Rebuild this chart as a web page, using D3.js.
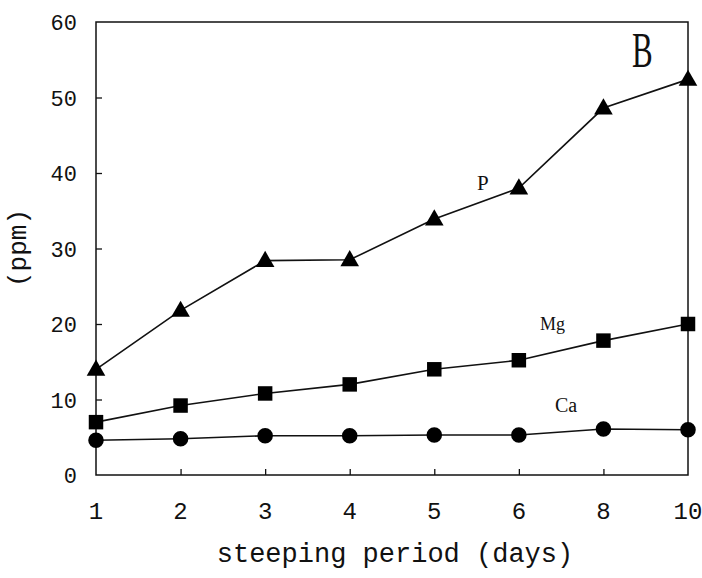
<!DOCTYPE html>
<html>
<head>
<meta charset="utf-8">
<script src="https://cdn.jsdelivr.net/npm/d3@7"></script>
<style>
  html, body { margin: 0; padding: 0; background: #fff; }
  svg { display: block; }
</style>
</head>
<body>
<svg id="chart" width="702" height="578"></svg>
<script>
// Steeping period (days) on an evenly spaced categorical axis
const days = ["1", "2", "3", "4", "5", "6", "8", "10"];
const yTicks = [0, 10, 20, 30, 40, 50, 60];

// Mineral concentrations (ppm)
const pValues  = [14.0, 21.8, 28.4, 28.5, 33.9, 38.0, 48.6, 52.4];
const mgValues = [7.0, 9.2, 10.8, 12.0, 14.0, 15.2, 17.8, 20.0];
const caValues = [4.6, 4.8, 5.2, 5.2, 5.3, 5.3, 6.1, 6.0];

const svg = d3.select("#chart");
const plotLeft = 96, plotRight = 688, plotTop = 22, plotBottom = 475;

const x = d3.scalePoint().domain(days).range([plotLeft, plotRight]);
const y = d3.scaleLinear().domain([0, 60]).range([plotBottom, plotTop]);

const mono = "'Liberation Mono', 'DejaVu Sans Mono', monospace";
const serif = "'Liberation Serif', 'DejaVu Serif', serif";

// Frame
svg.append("rect")
  .attr("x", plotLeft).attr("y", plotTop)
  .attr("width", plotRight - plotLeft).attr("height", plotBottom - plotTop)
  .attr("fill", "none").attr("stroke", "#111").attr("stroke-width", 1.5);

// Y axis: inward ticks, labels at left
const yAxis = d3.axisRight(y).tickValues(yTicks.filter(d => d > 0 && d < 60)).tickSize(6).tickFormat("");
const gy = svg.append("g").attr("transform", `translate(${plotLeft},0)`).call(yAxis);
gy.select(".domain").remove();
gy.selectAll("line").attr("stroke", "#111").attr("stroke-width", 1.3);

svg.append("g").selectAll("text").data(yTicks).join("text")
  .attr("x", 77).attr("y", d => y(d) + 8)
  .attr("text-anchor", "end")
  .attr("font-family", mono).attr("font-size", 22).attr("fill", "#111")
  .text(d => d);

// X axis: inward ticks at interior categories
const xAxis = d3.axisTop(x).tickValues(days.slice(1, -1)).tickSize(6).tickFormat("");
const gx = svg.append("g").attr("transform", `translate(0,${plotBottom})`).call(xAxis);
gx.select(".domain").remove();
gx.selectAll("line").attr("stroke", "#111").attr("stroke-width", 1.3);

svg.append("g").selectAll("text").data(days).join("text")
  .attr("x", d => x(d)).attr("y", 519)
  .attr("text-anchor", "middle")
  .attr("font-family", mono).attr("font-size", 24).attr("fill", "#111")
  .text(d => d);

// Axis titles
svg.append("text")
  .attr("x", 395).attr("y", 562)
  .attr("text-anchor", "middle")
  .attr("font-family", mono).attr("font-size", 27).attr("fill", "#111")
  .text("steeping period (days)");

svg.append("text")
  .attr("transform", "translate(26,248) rotate(-90)")
  .attr("text-anchor", "middle")
  .attr("font-family", mono).attr("font-size", 26).attr("fill", "#111")
  .text("(ppm)");

// Series
const line = d3.line().x((d, i) => x(days[i])).y(d => y(d));
const series = [
  { values: pValues, symbol: d3.symbolTriangle, size: 150, dy: 1 },
  { values: mgValues, symbol: d3.symbolSquare, size: 210, dy: 0 },
  { values: caValues, symbol: d3.symbolCircle, size: 190, dy: 0 }
];

series.forEach(s => {
  svg.append("path")
    .attr("d", line(s.values))
    .attr("fill", "none").attr("stroke", "#111").attr("stroke-width", 1.6);
  svg.append("g").selectAll("path").data(s.values).join("path")
    .attr("transform", (d, i) => `translate(${x(days[i])},${y(d) + s.dy})`)
    .attr("d", d3.symbol().type(s.symbol).size(s.size))
    .attr("fill", "#000");
});

// Series labels
const labels = [
  { text: "P", x: 477, y: 190, size: 21 },
  { text: "Mg", x: 540, y: 330, size: 18 },
  { text: "Ca", x: 555, y: 412, size: 20 }
];
svg.append("g").selectAll("text").data(labels).join("text")
  .attr("x", d => d.x).attr("y", d => d.y)
  .attr("font-family", serif).attr("font-size", d => d.size).attr("fill", "#111")
  .text(d => d.text);

// Panel letter (narrow serif)
svg.append("text")
  .attr("transform", "translate(632,67) scale(0.62,1)")
  .attr("font-family", serif).attr("font-size", 50).attr("fill", "#111")
  .text("B");
</script>
</body>
</html>
